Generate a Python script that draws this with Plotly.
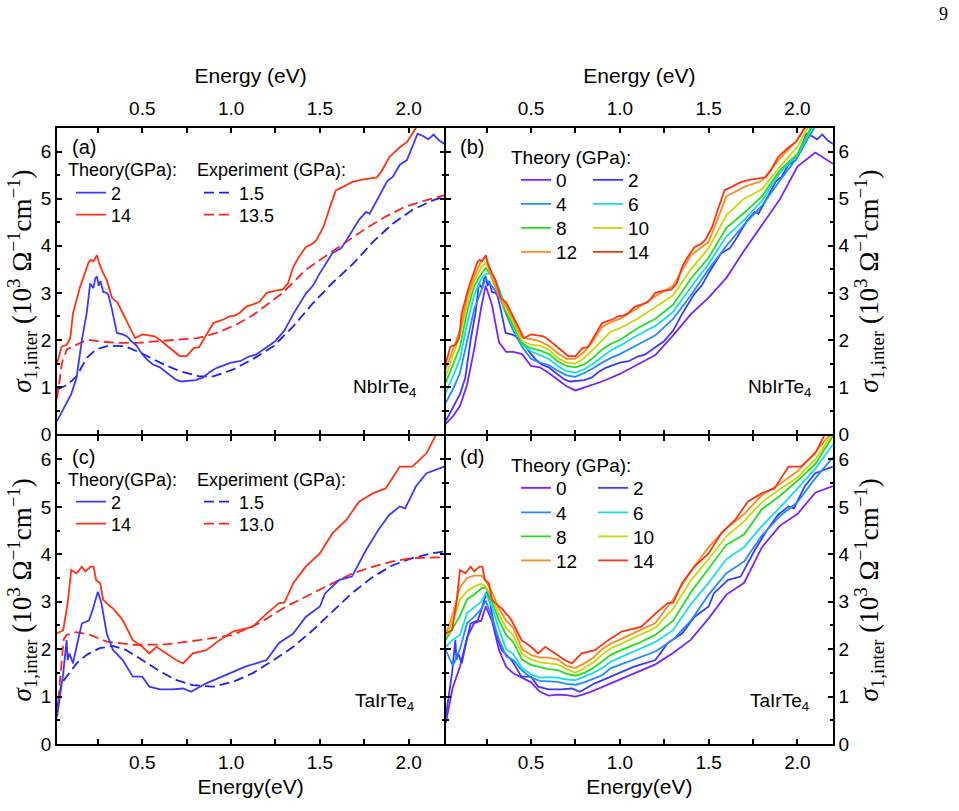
import plotly.graph_objects as go

# ---------------- data ----------------
# NbIrTe4, theory 2 GPa
NB_T2_E = [0.02,0.05,0.075,0.1,0.13,0.16,0.187,0.207,0.225,0.235,0.245,0.255,0.265,0.28,0.3,0.31,0.33,0.357,0.39,0.413,
           0.44,0.47,0.5,0.526,0.56,0.6,0.64,0.69,0.72,0.77,0.8,0.84,0.88,0.92,0.96,1.0,1.05,1.1,1.14,1.2,
           1.25,1.3,1.35,1.42,1.46,1.5,1.57,1.62,1.65,1.72,1.76,1.78,1.84,1.88,1.91,1.95,1.99,2.02,2.05,2.08,
           2.11,2.14,2.17,2.2]
NB_T2 = [0.28,0.5,0.67,0.85,1.2,2.0,2.57,3.2,3.1,3.3,3.35,3.15,3.25,3.02,3.0,2.95,2.64,2.15,2.12,2.08,
         1.97,1.87,1.7,1.59,1.48,1.42,1.3,1.16,1.12,1.13,1.15,1.2,1.32,1.41,1.47,1.52,1.55,1.65,1.69,1.84,
         1.98,2.2,2.55,2.98,3.15,3.42,3.84,3.95,4.12,4.55,4.72,4.68,5.1,5.38,5.46,5.72,5.82,6.1,6.38,6.33,
         6.26,6.36,6.24,6.16]
# NbIrTe4, theory 14 GPa
NB_T14_E = [0.02,0.046,0.075,0.095,0.11,0.13,0.15,0.175,0.198,0.21,0.225,0.245,0.26,0.28,0.3,0.33,0.36,0.39,0.42,0.46,
            0.5,0.53,0.57,0.6,0.64,0.68,0.71,0.75,0.79,0.82,0.845,0.87,0.9,0.93,0.96,0.99,1.02,1.05,1.085,1.12,
            1.16,1.2,1.25,1.29,1.32,1.35,1.38,1.42,1.46,1.48,1.52,1.55,1.59,1.63,1.68,1.73,1.78,1.82,1.85,1.89,
            1.95,1.99,2.02,2.04,2.08,2.14,2.2]
NB_T14 = [1.5,1.86,1.9,2.05,2.57,2.85,3.13,3.4,3.65,3.7,3.67,3.8,3.6,3.42,3.27,2.89,2.8,2.57,2.35,2.04,
          2.12,2.1,2.08,2.0,1.87,1.75,1.66,1.66,1.83,1.85,2.0,2.15,2.36,2.4,2.44,2.5,2.52,2.58,2.71,2.75,
          2.81,3.0,3.05,3.07,3.2,3.55,3.75,3.97,4.05,4.12,4.4,4.75,5.18,5.25,5.35,5.4,5.43,5.45,5.6,5.88,
          6.09,6.2,6.38,6.5,6.7,6.9,7.1]
# NbIrTe4, experiment 1.5 GPa and 13.5 GPa
NB_X15_E = [0.02,0.05,0.08,0.13,0.187,0.24,0.31,0.4,0.49,0.6,0.71,0.82,0.9,1.01,1.12,1.24,1.35,1.46,1.57,1.69,1.8,1.91,2.02,2.14,2.2]
NB_X15 = [0.95,1.0,1.05,1.23,1.62,1.8,1.88,1.87,1.73,1.52,1.34,1.23,1.23,1.37,1.59,1.87,2.29,2.78,3.21,3.63,4.09,4.47,4.76,4.97,5.04]
NB_X135_E = [0.02,0.03,0.048,0.076,0.13,0.19,0.26,0.36,0.47,0.58,0.69,0.81,0.92,1.03,1.12,1.2,1.29,1.42,1.53,1.65,1.76,1.87,1.98,2.1,2.2]
NB_X135 = [0.75,1.02,1.52,1.8,1.9,2.01,1.97,1.94,1.94,1.97,2.01,2.04,2.15,2.33,2.52,2.75,3.0,3.49,3.77,4.09,4.37,4.62,4.83,4.97,5.07]

# TaIrTe4, theory 2 GPa
TA_T2_E = [0.02,0.037,0.055,0.074,0.08,0.09,0.11,0.13,0.16,0.2,0.22,0.25,0.27,0.3,0.335,0.39,0.447,0.5,0.54,0.6,
           0.67,0.73,0.775,0.86,0.97,1.08,1.2,1.27,1.35,1.42,1.5,1.53,1.61,1.68,1.76,1.83,1.89,1.95,1.98,2.04,
           2.1,2.13,2.2]
TA_T2 = [0.57,1.07,1.49,2.19,1.77,1.91,1.7,2.05,2.54,2.61,2.82,3.21,2.97,2.33,1.98,1.77,1.42,1.42,1.21,1.15,
         1.15,1.17,1.1,1.28,1.46,1.63,1.77,2.13,2.33,2.68,2.9,3.18,3.46,3.53,4.09,4.52,4.83,5.01,4.97,5.43,
         5.71,5.75,5.85]
# TaIrTe4, theory 14 GPa
TA_T14_E = [0.02,0.055,0.08,0.1,0.13,0.16,0.18,0.21,0.226,0.24,0.263,0.28,0.32,0.335,0.376,0.39,0.447,0.5,0.54,0.58,
            0.636,0.69,0.73,0.785,0.86,0.935,1.01,1.06,1.12,1.2,1.27,1.3,1.35,1.42,1.5,1.57,1.65,1.72,1.8,1.87,
            1.95,2.02,2.1,2.15,2.2]
TA_T14 = [2.33,2.4,2.97,3.67,3.6,3.74,3.64,3.74,3.74,3.46,3.39,3.04,2.9,2.86,2.68,2.61,2.19,2.05,1.91,2.05,
          1.91,1.77,1.7,1.91,1.98,2.19,2.37,2.42,2.47,2.75,2.97,2.98,3.39,3.74,4.02,4.44,4.73,5.11,5.29,5.39,
          5.85,5.85,6.13,6.5,6.75]
# TaIrTe4, experiment 1.5 GPa and 13.0 GPa
TA_X15_E = [0.02,0.045,0.074,0.13,0.187,0.26,0.335,0.41,0.5,0.6,0.69,0.785,0.9,1.01,1.12,1.24,1.35,1.46,1.57,1.68,1.8,1.91,2.02,2.13,2.2]
TA_X15 = [0.72,1.28,1.42,1.7,1.88,2.02,2.07,1.98,1.77,1.53,1.35,1.24,1.21,1.31,1.49,1.77,2.05,2.4,2.79,3.18,3.53,3.77,3.92,4.02,4.06]
TA_X13_E = [0.02,0.04,0.057,0.074,0.13,0.207,0.3,0.45,0.636,0.82,0.956,1.01,1.16,1.31,1.46,1.57,1.68,1.8,1.91,2.02,2.2]
TA_X13 = [0.6,1.49,2.2,2.3,2.36,2.3,2.16,2.09,2.1,2.19,2.26,2.3,2.55,2.9,3.18,3.39,3.59,3.74,3.85,3.92,3.94]

# pressure-series theory curves (panels b, d) on a common energy grid
GRID_E = [0.02,0.06,0.1,0.14,0.18,0.22,0.245,0.28,0.32,0.36,0.4,0.45,0.5,0.55,0.6,0.65,0.7,0.75,0.8,0.85,
          0.9,0.95,1.0,1.1,1.2,1.3,1.4,1.5,1.6,1.7,1.8,1.9,2.0,2.1,2.2]
NB_P0 = [0.22,0.38,0.6,1.05,1.8,2.7,3.15,2.75,1.95,1.75,1.75,1.7,1.45,1.42,1.3,1.16,1.02,0.93,0.99,1.06,
         1.12,1.2,1.28,1.48,1.68,2.1,2.55,2.9,3.32,3.9,4.45,4.98,5.68,5.98,5.74]
NB_P4 = [0.67,0.95,1.3,2.0,2.65,3.05,3.3,3.14,2.95,2.55,2.2,1.85,1.6,1.52,1.47,1.35,1.25,1.22,1.3,1.4,
         1.52,1.62,1.7,1.9,2.1,2.45,2.95,3.5,4.0,4.45,4.85,5.38,5.88,6.55,6.8]
NB_P6 = [0.88,1.22,1.6,2.35,2.95,3.3,3.4,3.42,3.1,2.65,2.4,1.9,1.76,1.68,1.6,1.45,1.34,1.31,1.38,1.5,
         1.65,1.78,1.88,2.1,2.3,2.6,3.12,3.62,4.2,4.55,4.95,5.55,5.92,6.65,6.9]
NB_P8 = [1.09,1.45,1.85,2.6,3.15,3.4,3.53,3.35,2.95,2.6,2.3,1.92,1.82,1.78,1.7,1.55,1.45,1.42,1.48,1.62,
         1.8,1.92,2.0,2.25,2.45,2.75,3.3,3.75,4.38,4.7,5.05,5.6,5.95,6.7,6.95]
NB_P10 = [1.23,1.65,2.1,2.75,3.25,3.55,3.63,3.35,2.95,2.65,2.38,1.98,1.9,1.88,1.8,1.62,1.52,1.5,1.62,1.8,
          2.0,2.18,2.25,2.45,2.7,2.95,3.5,3.95,4.65,5.0,5.2,5.68,6.1,6.8,7.0]
NB_P12 = [1.38,1.8,2.2,2.9,3.35,3.68,3.77,3.3,2.92,2.72,2.45,2.05,2.02,1.97,1.88,1.72,1.6,1.6,1.75,1.98,
          2.28,2.38,2.45,2.68,2.93,3.15,3.8,4.08,5.05,5.25,5.38,5.85,6.25,6.85,7.05]

TA_P0 = [0.44,1.2,1.63,2.25,2.55,2.6,2.9,2.6,1.98,1.63,1.49,1.4,1.3,1.1,1.02,1.04,1.03,1.0,1.05,1.12,
         1.2,1.28,1.36,1.52,1.68,1.92,2.2,2.65,3.15,3.4,4.15,4.6,4.85,5.3,5.44]
TA_P4 = [1.98,1.65,2.0,2.55,2.68,2.85,3.02,2.68,2.2,1.85,1.77,1.55,1.4,1.33,1.32,1.31,1.27,1.25,1.3,1.38,
         1.45,1.6,1.67,1.8,1.95,2.2,2.6,3.15,3.6,3.85,4.4,4.8,5.1,5.6,6.05]
TA_P6 = [2.05,2.2,2.3,2.76,2.88,3.0,3.18,2.9,2.42,2.0,1.9,1.6,1.47,1.4,1.41,1.4,1.36,1.35,1.42,1.5,
         1.6,1.74,1.82,1.98,2.15,2.4,2.95,3.4,3.9,4.15,4.6,4.98,5.4,5.8,6.32]
TA_P8 = [2.19,2.45,2.7,3.05,3.15,3.28,3.3,3.0,2.6,2.3,2.15,1.78,1.67,1.62,1.58,1.56,1.48,1.44,1.5,1.6,
         1.75,1.88,1.97,2.12,2.3,2.6,3.2,3.7,4.2,4.42,4.95,5.23,5.55,5.9,6.5]
TA_P10 = [2.26,2.6,3.05,3.22,3.32,3.38,3.32,3.1,2.72,2.45,2.3,1.9,1.78,1.72,1.7,1.68,1.58,1.5,1.6,1.72,
          1.88,2.02,2.1,2.28,2.45,2.85,3.45,3.9,4.38,4.7,5.1,5.37,5.62,6.0,6.55]
TA_P12 = [2.3,2.75,3.3,3.5,3.55,3.55,3.45,3.2,2.85,2.6,2.45,2.0,1.88,1.82,1.82,1.78,1.65,1.6,1.7,1.82,
          2.0,2.12,2.2,2.38,2.55,3.05,3.65,4.15,4.55,4.85,5.25,5.48,5.75,6.15,6.6]

PRESSURES = ["0", "2", "4", "6", "8", "10", "12", "14"]
P_COLORS = ["#7b22ff", "#3a3aff", "#1f8cff", "#0fe0e8", "#22dd22", "#c8d800", "#ff8a1e", "#ff3311"]
EXP_BLUE = "#1c1cff"
EXP_RED = "#ff2020"

X_TICKS = [0.5, 1.0, 1.5, 2.0]
X_TICKTEXT = ["0.5", "1.0", "1.5", "2.0"]
X_MINOR = [0.25, 0.75, 1.25, 1.75]
X_RANGE = [0.02, 2.2]
Y_RANGE = [0, 6.5]

SANS = "Liberation Sans, Arial, sans-serif"
SERIF = "Liberation Serif, Times New Roman, serif"
YTITLE = "<i>σ</i><sub>1,inter</sub> (10<sup>3</sup> Ω<sup>−1</sup>cm<sup>−1</sup>)"

# ---------------- page geometry (pixels) ----------------
W, H = 959, 811
L, R, T, B = 57, 833, 128, 744
PW, PH = R - L, B - T


def px(xp):
    return (xp - L) / PW


def py(yp):
    return (B - yp) / PH


fig = go.Figure()
legends = {}


def new_legend(text_x, row_y, size):
    n = len(legends) + 1
    name = "legend" if n == 1 else "legend%d" % n
    legends[name] = dict(x=px(text_x - 44), y=py(row_y), xanchor="left", yanchor="middle",
                         xref="paper", yref="paper", bgcolor="rgba(0,0,0,0)", borderwidth=0,
                         font=dict(family=SANS, size=size, color="black"))
    return name


def add(x, y, xa, ya, name, color, leg, dash="solid"):
    fig.add_trace(go.Scatter(
        x=x, y=y, xaxis=xa, yaxis=ya, mode="lines", name=name,
        line=dict(color=color, width=1.8, dash=dash), legend=leg))


DASH = "10px,5px"
# panel (a)
add(NB_X15_E, NB_X15, "x", "y", "1.5", EXP_BLUE, new_legend(243, 193, 18), DASH)
add(NB_X135_E, NB_X135, "x", "y", "13.5", EXP_RED, new_legend(243, 215, 18), DASH)
add(NB_T2_E, NB_T2, "x", "y", "2", P_COLORS[1], new_legend(115, 193, 18))
add(NB_T14_E, NB_T14, "x", "y", "14", P_COLORS[7], new_legend(115, 215, 18))
# panel (c)
add(TA_X15_E, TA_X15, "x3", "y3", "1.5", EXP_BLUE, new_legend(243, 502, 18), DASH)
add(TA_X13_E, TA_X13, "x3", "y3", "13.0", EXP_RED, new_legend(243, 524, 18), DASH)
add(TA_T2_E, TA_T2, "x3", "y3", "2", P_COLORS[1], new_legend(115, 502, 18))
add(TA_T14_E, TA_T14, "x3", "y3", "14", P_COLORS[7], new_legend(115, 524, 18))

# panels (b) and (d)
nb_series = [(GRID_E, NB_P0), (NB_T2_E, NB_T2), (GRID_E, NB_P4), (GRID_E, NB_P6),
             (GRID_E, NB_P8), (GRID_E, NB_P10), (GRID_E, NB_P12), (NB_T14_E, NB_T14)]
ta_series = [(GRID_E, TA_P0), (TA_T2_E, TA_T2), (GRID_E, TA_P4), (GRID_E, TA_P6),
             (GRID_E, TA_P8), (GRID_E, TA_P10), (GRID_E, TA_P12), (TA_T14_E, TA_T14)]
B_ROWS = [180, 204, 228, 252]
D_ROWS = [488, 512.5, 536.5, 560.5]
for i, ((ex, ev), p, c) in enumerate(zip(nb_series, PRESSURES, P_COLORS)):
    tx = 560 if i % 2 == 0 else 632
    add(ex, ev, "x2", "y2", p, c, new_legend(tx, B_ROWS[i // 2], 19))
for i, ((ex, ev), p, c) in enumerate(zip(ta_series, PRESSURES, P_COLORS)):
    tx = 560 if i % 2 == 0 else 637
    add(ex, ev, "x4", "y4", p, c, new_legend(tx, D_ROWS[i // 2], 19))

TICKFONT = dict(family=SANS, size=19, color="black")
HALF = 0.75  # half of axis line width, so shared frame lines coincide
XL = [0, px(445) - HALF / PW]
XR = [px(445) + HALF / PW, 1]
YT = [py(435) + HALF / PH, 1]
YB = [0, py(435) - HALF / PH]


def xaxis(domain, anchor, side, title):
    return dict(domain=domain, anchor=anchor, side=side, range=X_RANGE,
                tickmode="array", tickvals=X_TICKS, ticktext=X_TICKTEXT,
                ticks="inside", ticklen=5, tickwidth=1.5, tickcolor="black",
                ticklabelstandoff=4 if side == "top" else 0,
                minor=dict(tickmode="array", tickvals=X_MINOR, ticks="inside", ticklen=5,
                           tickwidth=1.5, tickcolor="black"),
                showline=True, linecolor="black", linewidth=1.5, mirror="allticks",
                showgrid=False, zeroline=False, tickfont=TICKFONT,
                title=dict(text=title, font=dict(family=SANS, size=21, color="black"), standoff=8))


def yaxis(domain, anchor, side):
    return dict(domain=domain, anchor=anchor, side=side, range=Y_RANGE,
                tickmode="linear", tick0=0, dtick=1,
                ticks="inside", ticklen=5, tickwidth=1.5, tickcolor="black",
                minor=dict(tick0=0, dtick=0.5, ticks="inside", ticklen=3, tickwidth=1.5, tickcolor="black"),
                showline=True, linecolor="black", linewidth=1.5, mirror="allticks",
                showgrid=False, zeroline=False, tickfont=TICKFONT,
                title=dict(text=YTITLE, font=dict(family=SERIF, size=27, color="black"),
                           standoff=0 if side == "left" else 3))


def ann(x, y, text, size, xanchor="left"):
    return dict(xref="paper", yref="paper", x=px(x), y=py(y), text=text, showarrow=False,
                xanchor=xanchor, yanchor="middle", font=dict(family=SANS, size=size, color="black"))


annotations = [
    ann(70, 147, "(a)", 20), ann(458, 147, "(b)", 20),
    ann(70, 457, "(c)", 20), ann(458, 457, "(d)", 20),
    ann(66, 170, "Theory(GPa):", 18), ann(195, 170, "Experiment (GPa):", 18),
    ann(66, 480, "Theory(GPa):", 18), ann(195, 480, "Experiment (GPa):", 18),
    ann(509, 157, "Theory (GPa):", 19), ann(509, 465, "Theory (GPa):", 19),
    ann(418, 388, "NbIrTe<sub>4</sub>", 19, "right"), ann(813, 388, "NbIrTe<sub>4</sub>", 19, "right"),
    ann(416, 702, "TaIrTe<sub>4</sub>", 19, "right"), ann(811, 702, "TaIrTe<sub>4</sub>", 19, "right"),
    dict(xref="paper", yref="paper", x=px(943), y=py(14), text="9", showarrow=False,
         xanchor="center", yanchor="middle", font=dict(family=SERIF, size=18, color="black")),
]

fig.update_layout(
    width=W, height=H,
    margin=dict(l=L, r=W - R, t=T, b=H - B),
    paper_bgcolor="white", plot_bgcolor="white",
    showlegend=True,
    xaxis=xaxis(XL, "y", "top", "Energy (eV)"),
    yaxis=yaxis(YT, "x", "left"),
    xaxis2=xaxis(XR, "y2", "top", "Energy (eV)"),
    yaxis2=yaxis(YT, "x2", "right"),
    xaxis3=xaxis(XL, "y3", "bottom", "Energy(eV)"),
    yaxis3=yaxis(YB, "x3", "left"),
    xaxis4=xaxis(XR, "y4", "bottom", "Energy(eV)"),
    yaxis4=yaxis(YB, "x4", "right"),
    annotations=annotations,
    **legends,
)

fig.write_html("out.html")
